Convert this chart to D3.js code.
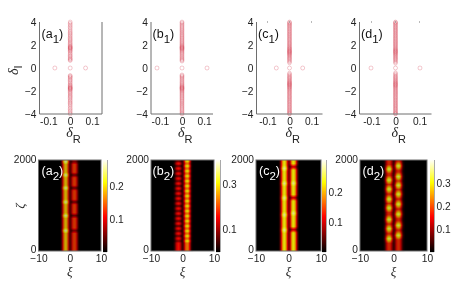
<!DOCTYPE html>
<html>
<head>
    <meta charset="utf-8">
    <title>spectra and intensity maps</title>
    <script src="https://cdn.jsdelivr.net/npm/d3@7/dist/d3.min.js"></script>
    <style>
        html, body { margin: 0; padding: 0; background: #fff; }
        svg { display: block; filter: blur(0.35px); }
        text { font-family: "Liberation Sans", Arial, sans-serif; fill: #222; }
    </style>
</head>
<body>
    <div id="chart"></div>
    <script>
        // spectrum: imaginary parts on the delta_R = 0 column (upper half, the lower half mirrors it)
        const imagA = [0.65,0.72,0.8,0.88,1.0,1.08,1.2,1.3,1.42,1.5,1.58,1.65,1.7,1.74,1.78,1.83,1.88,1.95,2.05,2.15,2.25,2.36,2.45,2.55,2.66,2.78,2.88,3.0,3.1,3.22,3.35,3.5,3.62,3.75,3.88,4.0];
        const imagB = [0.6,0.68,0.76,0.85,0.95,1.04,1.14,1.24,1.33,1.42,1.5,1.57,1.63,1.68,1.72,1.76,1.8,1.85,1.9,1.97,2.05,2.13,2.22,2.3,2.4,2.48,2.58,2.66,2.76,2.85,2.94,3.04,3.13,3.23,3.32,3.42,3.52,3.62,3.72,3.82,3.92,4.0];
        const imagC = [0.45,0.55,0.64,0.74,0.82,0.9,0.98,1.06,1.14,1.2,1.26,1.32,1.37,1.42,1.47,1.52,1.58,1.64,1.7,1.77,1.84,1.92,2.0,2.08,2.16,2.24,2.33,2.42,2.5,2.58,2.67,2.76,2.84,2.93,3.0,3.1,3.18,3.27,3.36,3.44,3.53,3.62,3.7,3.78,3.86,3.94,4.0];
        const imagD = [0.42,0.52,0.62,0.72,0.8,0.88,0.96,1.04,1.12,1.19,1.26,1.32,1.38,1.43,1.48,1.54,1.6,1.67,1.74,1.82,1.9,1.98,2.06,2.14,2.22,2.3,2.38,2.47,2.55,2.63,2.72,2.8,2.88,2.97,3.05,3.14,3.22,3.3,3.38,3.47,3.55,3.63,3.72,3.8,3.88,3.95,4.0];
        // isolated eigenvalues on the delta_I = 0 line
        const realA = [-0.07, 0, 0.07];
        const realB = [-0.113, 0, 0.113];
        const realC = [-0.06, 0, 0.06];
        const realD = [-0.102, 0, 0.102];

        // intensity along each core: [zeta, peak or notch value]
        const leftSpotsA  = [[1963,.27],[1670,.27],[1385,.27],[1077,.27],[776,.27],[446,.27]];
        const rightSpotsA = [[1963,.06],[1670,.05],[1385,.05],[1077,.05],[776,.05],[446,.06]];
        const leftSpotsB  = [[1978,.06],[1868,.06],[1758,.06],[1648,.06],[1538,.06],[1429,.06],[1319,.06],[1209,.06],[1099,.06],[989,.06],[879,.06],[769,.06],[659,.06],[549,.06],[440,.06],[330,.07],[220,.08]];
        const rightSpotsB = [[1978,.33],[1868,.33],[1758,.33],[1648,.33],[1538,.33],[1429,.33],[1319,.33],[1209,.33],[1099,.33],[989,.33],[879,.33],[769,.33],[659,.33],[549,.33],[440,.33],[330,.33],[220,.33]];
        const leftSpotsC  = [[1815,.29],[1485,.29],[1165,.29],[795,.29],[460,.29]];
        const rightSpotsC = [[1850,.1],[1490,.29],[1170,.1],[830,.29],[470,.1]];
        const leftSpotsD  = [[1800,.36],[1560,.36],[1360,.36],[1140,.36],[945,.36],[695,.36],[490,.36],[270,.36]];
        const rightSpotsD = [[1870,.36],[1635,.36],[1445,.36],[1250,.36],[1030,.36],[810,.36],[565,.36],[345,.36]];
        const baseLeft  = [.2, .17, .24, .19];
        const baseRight = [.14, .24, .24, .19];
        // half width of a spot along zeta
        const spotWidth = [60, 45, 70, 100];

        // cross section of a core: offset from its centre, relative intensity
        const coreOffsets = [-1.8,-1.35,-1,-.5,0,.5,1,1.35,1.8];
        const coreShape   = [0,.12,.42,.86,1,.86,.42,.12,0];
        const coreCentres = [-1.42, 1.38];

        const cbarMax = [.28, .41, .31, .4];
        const cbarTicks = [[.1,.2], [.1,.3], [.1,.2], [.1,.2,.3]];
        const yTicksTop = [-4,-2,0,2,4];
        const xTicksTop = [-0.1,0,0.1];
        const xTicksMap = [-10,0,10];
        const yTicksMap = [0,2000];
        const letters = ["a","b","c","d"];

        const svg = d3.select("#chart").append("svg").attr("width", 463).attr("height", 292);
        const frameColor = "#6e6e6e";

        const hot = d3.scaleLinear()
            .domain([0, .375, .75, 1])
            .range(["#000000", "#ff0000", "#ffff00", "#ffffff"])
            .clamp(true);

        function label(g, x, y, letter, sub, color) {
            const t = g.append("text").attr("x", x).attr("y", y)
                .attr("font-size", 12.5).style("fill", color);
            t.append("tspan").text("(" + letter);
            t.append("tspan").attr("dy", 4.5).attr("font-size", 11.5).text(sub);
            t.append("tspan").attr("dy", -4.5).text(")");
        }

        // top row
        const topLayout = [
            {l: 39.5, r: 102, dom: [-0.14, 0.145], lx: 41.5, rightLine: true},
            {l: 151, r: 213, dom: [-0.14, 0.14], lx: 152.5},
            {l: 256.5, r: 322.5, dom: [-0.15, 0.15], lx: 258, topDots: true},
            {l: 359.5, r: 431.5, dom: [-0.15, 0.15], lx: 361, topDots: true}
        ];
        const imagAll = [imagA, imagB, imagC, imagD];
        const realAll = [realA, realB, realC, realD];
        const yTop = d3.scaleLinear().domain([-4, 4]).range([114, 22]);

        topLayout.forEach((p, i) => {
            const g = svg.append("g");
            const x = d3.scaleLinear().domain(p.dom).range([p.l, p.r]);
            const column = imagAll[i].concat(imagAll[i].map(v => -v));

            g.selectAll(".col").data(column).enter().append("circle")
                .attr("cx", x(0)).attr("cy", d => yTop(d)).attr("r", 1.9)
                .attr("fill", "none").attr("stroke", "#d23c50").attr("stroke-width", 0.45).attr("stroke-opacity", .6);
            g.selectAll(".iso").data(realAll[i]).enter().append("circle")
                .attr("cx", d => x(d)).attr("cy", yTop(0)).attr("r", 2)
                .attr("fill", "none").attr("stroke", "#d8485c").attr("stroke-width", 0.5).attr("stroke-opacity", .6);

            g.append("path").attr("fill", "none").attr("stroke", frameColor).attr("stroke-width", 1)
                .attr("d", `M${p.l},${yTop(4)}V${yTop(-4)}H${p.r}` + (p.rightLine ? `V${yTop(4)}` : ""));

            const xAxis = d3.axisBottom(x).tickValues(xTicksTop).tickFormat(d => d === 0 ? "0" : String(d)).tickSize(0).tickPadding(3);
            const xg = g.append("g").attr("transform", `translate(0,${yTop(-4) + 1})`).call(xAxis);
            xg.select(".domain").remove();
            xg.selectAll("text").attr("font-size", 10.2);

            const yAxis = d3.axisLeft(yTop).tickValues(yTicksTop).tickSize(0).tickPadding(3);
            const yg = g.append("g").attr("transform", `translate(${p.l},0)`).call(yAxis);
            yg.select(".domain").remove();
            yg.selectAll("text").attr("font-size", 10.2);

            if (p.topDots) {
                g.selectAll(".dot").data(xTicksTop).enter().append("rect")
                    .attr("x", d => x(d) - .5).attr("y", 21.5).attr("width", 1).attr("height", 1).attr("fill", "#777");
            }

            label(g, p.lx, 38, letters[i], "1", "#111");

            const lab = g.append("text").attr("x", x(0) - 4).attr("y", 137);
            lab.append("tspan").attr("font-size", 14).style("font-family", "'Liberation Serif', serif").style("font-style", "italic").text("δ");
            lab.append("tspan").attr("dy", 5.5).attr("font-size", 11).text("R");
        });

        const yLab = svg.append("text").attr("transform", "translate(18,75) rotate(-90)");
        yLab.append("tspan").attr("font-size", 14).style("font-family", "'Liberation Serif', serif").style("font-style", "italic").text("δ");
        yLab.append("tspan").attr("dy", 4).attr("font-size", 11).text("I");

        // bottom row
        const mapLayout = [
            {l: 38.5, r: 101, cb: 103, lx: 41.5},
            {l: 151, r: 214, cb: 216, lx: 152.5},
            {l: 256, r: 321, cb: 322, lx: 259},
            {l: 360, r: 427, cb: 430, lx: 362.5}
        ];
        const leftAll = [leftSpotsA, leftSpotsB, leftSpotsC, leftSpotsD];
        const rightAll = [rightSpotsA, rightSpotsB, rightSpotsC, rightSpotsD];
        const yMap = d3.scaleLinear().domain([0, 2000]).range([251, 160]);
        const shape = d3.scaleLinear().domain(coreOffsets).range(coreShape).clamp(true);

        // amplitude along one core, piecewise between the spots
        function coreScale(spots, base, w) {
            const knots = [[0, base]];
            spots.slice().sort((a, b) => a[0] - b[0]).forEach(s => {
                knots.push([s[0] - w, base], [s[0], s[1]], [s[0] + w, base]);
            });
            knots.push([2000, base]);
            return d3.scaleLinear().domain(knots.map(k => k[0])).range(knots.map(k => k[1]));
        }

        mapLayout.forEach((p, i) => {
            const g = svg.append("g");
            const x = d3.scaleLinear().domain([-10, 10]).range([p.l, p.r]);
            const color = v => hot(v / cbarMax[i]);
            const left = coreScale(leftAll[i], baseLeft[i], spotWidth[i]);
            const right = coreScale(rightAll[i], baseRight[i], spotWidth[i]);

            g.append("rect").attr("x", p.l).attr("y", 160).attr("width", p.r - p.l).attr("height", 91).attr("fill", "#000");

            const stepX = 20 / (p.r - p.l), stepY = 2000 / 91;
            const cells = [];
            d3.range(-3.6, 3.6, stepX).forEach(xi => {
                d3.range(0, 2000, stepY).forEach(z => {
                    const v = left(z + stepY / 2) * shape(xi - coreCentres[0]) + right(z + stepY / 2) * shape(xi - coreCentres[1]);
                    if (v > 0.002) cells.push({xi, z, v});
                });
            });
            g.selectAll(".cell").data(cells).enter().append("rect")
                .attr("x", d => x(d.xi)).attr("y", d => yMap(d.z + stepY))
                .attr("width", 1.05).attr("height", 1.05)
                .attr("fill", d => color(d.v));

            g.append("rect").attr("x", p.l).attr("y", 160).attr("width", p.r - p.l).attr("height", 91)
                .attr("fill", "none").attr("stroke", frameColor).attr("stroke-width", 1);

            const xg = g.append("g").attr("transform", "translate(0,254)")
                .call(d3.axisBottom(x).tickValues(xTicksMap).tickSize(0).tickPadding(1));
            xg.select(".domain").remove();
            xg.selectAll("text").attr("font-size", 10.2);

            const yg = g.append("g").attr("transform", `translate(${p.l},-2)`)
                .call(d3.axisLeft(yMap).tickValues(yTicksMap).tickFormat(d3.format("d")).tickSize(0).tickPadding(2));
            yg.select(".domain").remove();
            yg.selectAll("text").attr("font-size", 10.2);
            yg.selectAll(".tick").filter(d => d === 2000).attr("transform", `translate(0,${yMap(2000) + 2})`);

            label(g, p.lx, 175, letters[i], "2", "#fff");

            g.append("text").attr("x", x(0)).attr("y", 276).attr("text-anchor", "middle")
                .attr("font-size", 13).style("font-family", "'Liberation Serif', serif").style("font-style", "italic").text("ξ");

            // colour bar
            const yBar = d3.scaleLinear().domain([0, cbarMax[i]]).range([252, 160]);
            const rows = d3.range(0, cbarMax[i], cbarMax[i] / 92);
            g.selectAll(".bar").data(rows).enter().append("rect")
                .attr("x", p.cb).attr("y", d => yBar(d) - 1).attr("width", 4).attr("height", 1.1)
                .attr("fill", d => color(d));
            g.append("path").attr("fill", "none").attr("stroke", frameColor).attr("stroke-width", .6)
                .attr("d", `M${p.cb + 4.5},160V252`);

            const cg = g.append("g").attr("transform", `translate(${p.cb + 5},0)`)
                .call(d3.axisRight(yBar).tickValues(cbarTicks[i]).tickFormat(d3.format(".1f")).tickSize(0).tickPadding(1.5));
            cg.select(".domain").remove();
            cg.selectAll("text").attr("font-size", 10.2);
        });

        svg.append("text").attr("transform", "translate(24,206) rotate(-90)").attr("text-anchor", "middle")
            .attr("font-size", 13).style("font-family", "'Liberation Serif', serif").style("font-style", "italic").text("ζ");
    </script>
</body>
</html>
